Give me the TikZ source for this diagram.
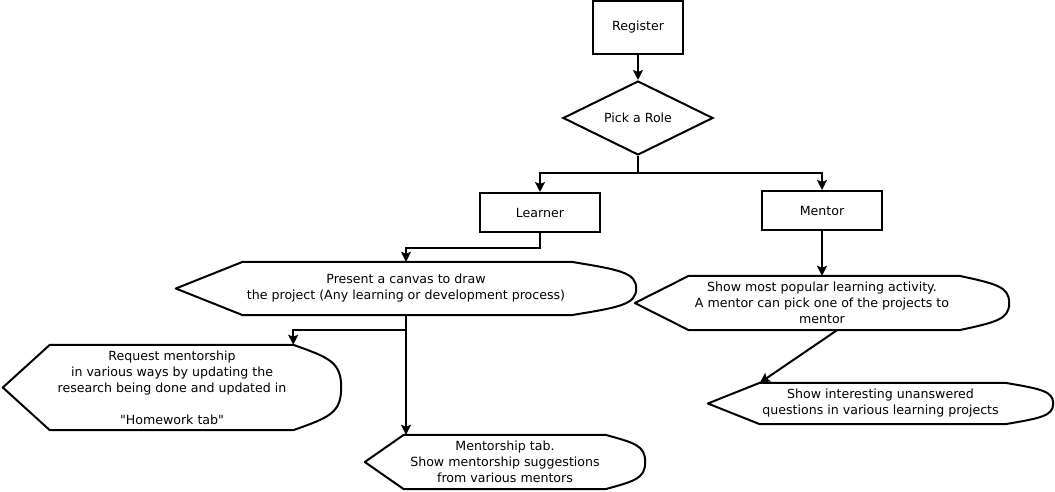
\documentclass[tikz,border=0pt]{standalone}
\usepackage{fontspec}
\setmainfont{DejaVu Sans}[Ligatures=TeXOff]
\usetikzlibrary{arrows.meta,shapes.geometric,calc}
\tikzset{
  txt/.style={font=\fontsize{12.6}{16}\selectfont, align=center, inner sep=0pt},
  lw/.style={line width=2pt},
  conn/.style={lw, -{Stealth[width=10pt,length=10pt,inset=2pt]}},
  boxnode/.style={txt, draw, lw, rectangle},
  shapeline/.style={lw, line join=round},
}
\newcommand\dispshape[8]{%
  \node[txt, minimum width=#4pt, minimum height=#5pt] (#1) at (#2,#3) {#8};
  \coordinate (#1-tl) at ($(#1.north west)+(#6,0)$);
  \coordinate (#1-bl) at ($(#1.south west)+(#6,0)$);
  \coordinate (#1-tr) at ($(#1.north east)+(-#7,0)$);
  \coordinate (#1-br) at ($(#1.south east)+(-#7,0)$);
  \draw[shapeline] (#1.west) -- (#1-tl) -- (#1-tr)
    .. controls +(0.75*#7,0.15*#5) and +(0,-0.3*#5) .. (#1.east)
    .. controls +(0,0.3*#5) and +(0.75*#7,-0.15*#5) .. (#1-br)
    -- (#1-bl) -- cycle;
}
\begin{document}
\begin{tikzpicture}[x=1pt,y=-1pt]
\useasboundingbox[fill=white] (0,0) rectangle (1055,492);

\node[boxnode, minimum width=90pt, minimum height=53pt] (register) at (638,27.5) {Register};
\node[txt, draw, lw, diamond, aspect=2, minimum width=150pt, minimum height=74pt] (pick) at (638,118) {Pick a Role};
\node[boxnode, minimum width=120pt, minimum height=39pt] (learner) at (540,212.5) {Learner};
\node[boxnode, minimum width=120pt, minimum height=39pt] (mentor) at (822,210.5) {Mentor};

\dispshape{canvas}{406}{288.5}{460}{53}{67}{65}{Present a canvas to draw\\the project (Any learning or development process)}
\dispshape{request}{172}{387.5}{338}{85}{47}{48}{Request mentorship\\in various ways by updating the\\research being done and updated in\\[16pt]"Homework tab"}
\dispshape{tab}{505}{462}{280}{54}{39}{40}{Mentorship tab.\\Show mentorship suggestions\\from various mentors}
\dispshape{popular}{822}{303}{374}{54}{54}{50}{Show most popular learning activity.\\A mentor can pick one of the projects to\\mentor}
\dispshape{interesting}{880.5}{403.5}{345}{41}{52}{48}{Show interesting unanswered\\questions in various learning projects}

\draw[conn] (register) -- (pick);
\coordinate (split) at (638,173);
\draw[lw] (pick.south) -- (split);
\draw[conn] (split) -| (learner.north);
\draw[conn] (split) -| (mentor.north);
\draw[conn] (learner.south) -- ++(0,15) -| (canvas.north);
\draw[conn] (canvas.south) -- (canvas.south |- tab.north);
\coordinate (fork) at ($(canvas.south)+(0,15)$);
\draw[conn] (fork) -| (request-tr);
\draw[conn] (mentor.south) -- (mentor.south |- popular.north);
\coordinate (diagstart) at ($(popular.south)+(15,0)$);
\draw[conn] (diagstart) -- (interesting-tl);
\end{tikzpicture}
\end{document}
